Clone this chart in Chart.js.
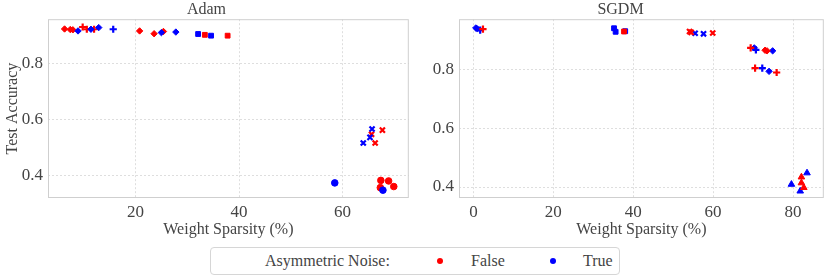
<!DOCTYPE html>
<html>
<head>
<meta charset="utf-8">
<script src="https://cdn.jsdelivr.net/npm/chart.js@4.4.1/dist/chart.umd.min.js"></script>
<style>
    body { margin: 0; background: #fff; width: 830px; height: 280px; position: relative; overflow: hidden; font-family: "Liberation Serif", serif; }
    canvas { position: absolute; top: 0; }
    #adamChart { left: 0; }
    #sgdmChart { left: 415px; }
    .legend { position: absolute; left: 210px; top: 247px; width: 410px; height: 28px; box-sizing: border-box; border: 1px solid #d6d6d6; border-radius: 4px; color: #444; font-size: 16px; }
    .legend span { position: absolute; top: 4px; white-space: nowrap; }
    .legend i { position: absolute; top: 10px; width: 6px; height: 6px; border-radius: 50%; }
</style>
</head>
<body>
<canvas id="adamChart" width="415" height="240"></canvas>
<canvas id="sgdmChart" width="415" height="240"></canvas>
<div class="legend">
    <span id="legend-title" style="left:54px"></span>
    <i style="left:226px;background:#ff0000"></i><span id="legend-false" style="left:260px"></span>
    <i style="left:339px;background:#0000ff"></i><span id="legend-true" style="left:372px"></span>
</div>

<script>
// ============================================================
// Données
// ============================================================

const titles = ['Adam', 'SGDM'];
const xTitle = 'Weight Sparsity (%)';
const yTitle = 'Test Accuracy';
const legendTitle = 'Asymmetric Noise:';
const noiseLabels = ['False', 'True'];

const xTicksAdam = [20, 40, 60];
const xTicksSgdm = [0, 20, 40, 60, 80];
const yTicks = [0.4, 0.6, 0.8];

// Groupes : P, D, S, X, O, T (un symbole par groupe)
// Adam — bruit asymétrique False
const adamFalseX = [6.3, 7.4, 7.9, 9.8, 10.6, 12.0, 20.8, 23.6, 25.4, 33.4, 37.8, 65.6, 66.3, 67.7, 67.4, 68.9, 67.3, 69.9];
const adamFalseY = [0.925, 0.923, 0.922, 0.932, 0.924, 0.924, 0.918, 0.908, 0.916, 0.904, 0.901, 0.548, 0.517, 0.563, 0.383, 0.381, 0.357, 0.361];
const adamFalseGroup = ['D', 'D', 'D', 'P', 'P', 'P', 'D', 'D', 'D', 'S', 'S', 'X', 'X', 'X', 'O', 'O', 'O', 'O'];

// Adam — bruit asymétrique True
const adamTrueX = [8.9, 11.4, 12.9, 15.7, 25.0, 27.8, 32.1, 34.6, 65.7, 65.3, 64.0, 58.5, 67.8];
const adamTrueY = [0.918, 0.924, 0.930, 0.924, 0.912, 0.914, 0.907, 0.901, 0.567, 0.537, 0.517, 0.374, 0.348];
const adamTrueGroup = ['D', 'D', 'D', 'P', 'D', 'D', 'S', 'S', 'X', 'X', 'X', 'O', 'O'];

// SGDM — bruit asymétrique False
const sgdmFalseX = [2.4, 37.7, 54.1, 54.5, 59.9, 69.4, 73.0, 73.5, 70.5, 75.9, 82.1, 82.1, 82.7];
const sgdmFalseY = [0.939, 0.931, 0.931, 0.928, 0.926, 0.875, 0.867, 0.865, 0.806, 0.791, 0.434, 0.414, 0.398];
const sgdmFalseGroup = ['P', 'S', 'X', 'X', 'X', 'P', 'D', 'D', 'P', 'P', 'T', 'T', 'T'];

// SGDM — bruit asymétrique True
const sgdmTrueX = [0.6, 1.0, 1.7, 35.2, 35.6, 38.0, 55.5, 57.6, 70.3, 70.7, 74.9, 72.3, 74.0, 83.5, 79.6, 81.8];
const sgdmTrueY = [0.943, 0.940, 0.936, 0.942, 0.930, 0.932, 0.925, 0.923, 0.875, 0.868, 0.865, 0.806, 0.795, 0.448, 0.409, 0.386];
const sgdmTrueGroup = ['D', 'D', 'P', 'S', 'S', 'S', 'X', 'X', 'D', 'P', 'D', 'P', 'D', 'T', 'T', 'T'];

// ============================================================
// Style
// ============================================================

const RED = '#ff0000';
const BLUE = '#0000ff';
const TEXT = '#444444';
const FONT = "'Liberation Serif', serif";

Chart.defaults.font.family = FONT;
Chart.defaults.color = TEXT;

const symboles = {
    P: { style: 'cross', radius: 3.6, width: 2.2 },
    D: { style: 'rectRot', radius: 3.2, width: 1 },
    S: { style: 'rect', radius: 3.4, width: 1 },
    X: { style: 'crossRot', radius: 3.6, width: 2.2 },
    O: { style: 'circle', radius: 3.3, width: 1 },
    T: { style: 'triangle', radius: 3.8, width: 1 }
};

// Cadre gris autour de la zone de tracé
const cadre = {
    id: 'cadre',
    beforeDatasetsDraw(chart) {
        const a = chart.chartArea;
        const ctx = chart.ctx;
        ctx.save();
        ctx.strokeStyle = '#cfcfcf';
        ctx.lineWidth = 1;
        ctx.strokeRect(a.left + 0.5, a.top + 0.5, a.width - 1, a.height - 1);
        ctx.restore();
    }
};

function points(xs, ys) {
    return xs.map(function (x, i) { return { x: x, y: ys[i] }; });
}

function serie(xs, ys, groups, couleur) {
    return {
        data: points(xs, ys),
        backgroundColor: couleur,
        borderColor: couleur,
        pointStyle: groups.map(function (g) { return symboles[g].style; }),
        pointRadius: groups.map(function (g) { return symboles[g].radius; }),
        pointBorderWidth: groups.map(function (g) { return symboles[g].width; })
    };
}

function graphique(id, titre, series, xTicks, xMin, xMax, yMin, yMax, axeGauche, avecTitreY, margeDroite) {
    new Chart(document.getElementById(id).getContext('2d'), {
        type: 'scatter',
        data: { datasets: series },
        plugins: [cadre],
        options: {
            responsive: false,
            animation: false,
            layout: { padding: { right: margeDroite } },
            plugins: {
                legend: { display: false },
                tooltip: { enabled: false },
                title: {
                    display: true,
                    text: titre,
                    color: TEXT,
                    font: { family: FONT, size: 16, weight: 'normal', lineHeight: 1.2 },
                    padding: { top: 0, bottom: 0 }
                }
            },
            scales: {
                x: {
                    type: 'linear',
                    min: xMin,
                    max: xMax,
                    afterBuildTicks: function (s) { s.ticks = xTicks.map(function (v) { return { value: v }; }); },
                    afterFit: function (s) { s.height = 42; },
                    grid: { color: '#dedede', drawTicks: false },
                    border: { display: false, dash: [2, 2] },
                    ticks: { color: TEXT, padding: 4, font: { family: FONT, size: 17 } },
                    title: {
                        display: true,
                        text: xTitle,
                        color: TEXT,
                        padding: { top: 0, bottom: 1 },
                        font: { family: FONT, size: 16 }
                    }
                },
                y: {
                    type: 'linear',
                    min: yMin,
                    max: yMax,
                    afterBuildTicks: function (s) { s.ticks = yTicks.map(function (v) { return { value: v }; }); },
                    afterFit: function (s) { s.width = axeGauche; },
                    grid: { color: '#dedede', drawTicks: false },
                    border: { display: false, dash: [2, 2] },
                    ticks: {
                        color: TEXT,
                        padding: 5,
                        font: { family: FONT, size: 17 },
                        callback: function (v) { return v.toFixed(1); }
                    },
                    title: {
                        display: avecTitreY,
                        text: yTitle,
                        color: TEXT,
                        padding: { top: 3, bottom: 0 },
                        font: { family: FONT, size: 16 }
                    }
                }
            }
        }
    });
}

graphique('adamChart', titles[0], [
    serie(adamTrueX, adamTrueY, adamTrueGroup, BLUE),
    serie(adamFalseX, adamFalseY, adamFalseGroup, RED)
], xTicksAdam, 3.1, 72.8, 0.32, 0.96, 48, true, 2);

graphique('sgdmChart', titles[1], [
    serie(sgdmFalseX, sgdmFalseY, sgdmFalseGroup, RED),
    serie(sgdmTrueX, sgdmTrueY, sgdmTrueGroup, BLUE)
], xTicksSgdm, -3.6, 87.7, 0.3625, 0.973, 44, false, 4);

document.getElementById('legend-title').textContent = legendTitle;
document.getElementById('legend-false').textContent = noiseLabels[0];
document.getElementById('legend-true').textContent = noiseLabels[1];
</script>
</body>
</html>
